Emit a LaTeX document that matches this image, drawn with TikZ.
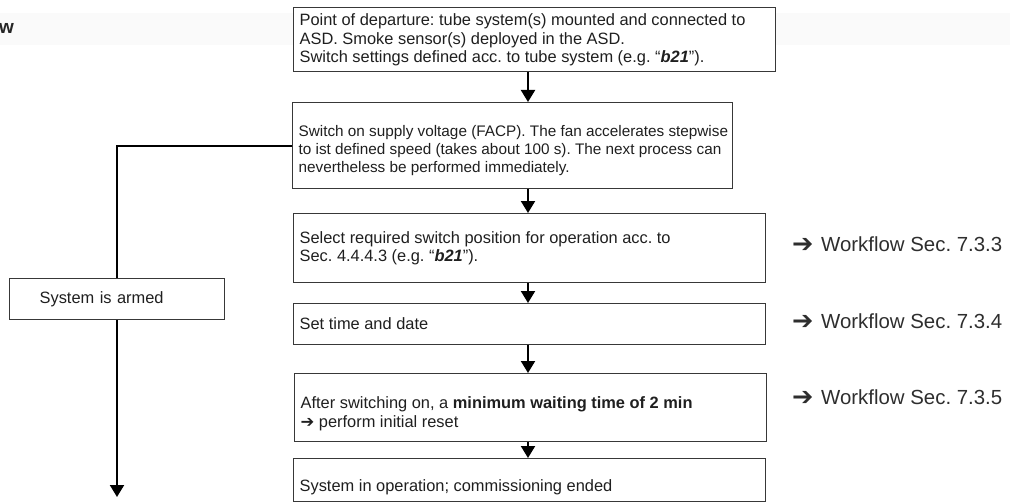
\documentclass[tikz,border=0pt]{standalone}
\usepackage{fontspec}
\setmainfont{Liberation Sans}
\newfontfamily\symfont{DejaVu Sans}
\usetikzlibrary{arrows.meta,calc}
\newcommand{\harr}{{\symfont\bfseries ➔}}
\newcommand{\bigarr}{\makebox[29pt][l]{\raisebox{-1pt}{\scalebox{1.25}{\symfont\bfseries ➔}}}}
% #1 box height, #2 text width, #3 first baseline below top, #4 lines
\newcommand{\boxtext}[4]{\parbox[c][#1][t]{#2}{\parindent=0pt\parskip=0pt\rule{0pt}{#3}#4}}
\frenchspacing
\begin{document}
\begin{tikzpicture}[x=1pt,y=-1pt,
  box/.style={draw=black!78, line width=1.3pt, fill=white, anchor=north west,
    inner xsep=6pt, inner ysep=0pt,
    font=\fontsize{16.4pt}{18.5pt}\selectfont, text=black!88},
  small/.style={font=\fontsize{15.3pt}{17.8pt}\selectfont},
  conn/.style={line width=2pt, draw=black, -{Triangle[width=14pt,length=12pt]}},
  lab/.style={anchor=west, inner sep=0pt, font=\fontsize{20.4pt}{24pt}\selectfont, text=black!82}]
\useasboundingbox (0,0) rectangle (1010,503);
\fill[black!2] (0,13) rectangle (1010,45);
\node[anchor=west, inner sep=0pt, font=\bfseries\fontsize{19pt}{22pt}\selectfont, text=black!85] (hd) at (-1,28) {w};

\node[box] (b1) at (293,7) {\boxtext{64pt}{470pt}{18pt}{%
  \mbox{Point of departure: tube system(s) mounted and connected to}\par
  \mbox{ASD. Smoke sensor(s) deployed in the ASD.}\par
  \mbox{Switch settings defined acc. to tube system (e.g. “\textbf{\textit{b21}}”).}}};
\node[box, small] (b2) at (292,102) {\boxtext{86pt}{428pt}{34.2pt}{%
  \mbox{Switch on supply voltage (FACP). The fan accelerates stepwise}\par
  \mbox{to ist defined speed (takes about 100 s). The next process can}\par
  \mbox{nevertheless be performed immediately.}}};
\node[box] (b3) at (293,213) {\boxtext{69pt}{460pt}{29.6pt}{%
  \mbox{Select required switch position for operation acc. to}\par
  \mbox{Sec. 4.4.4.3 (e.g. “\textbf{\textit{b21}}”).}}};
\node[box] (b4) at (293,303) {\boxtext{41pt}{460pt}{26pt}{%
  \mbox{Set time and date}}};
\node[box] (b5) at (294,373) {\boxtext{68pt}{460pt}{35pt}{%
  \mbox{After switching on, a \textbf{minimum waiting time of 2 min}}\par
  \mbox{\harr{} perform initial reset}}};
\node[box] (b6) at (293,458) {\boxtext{43pt}{460pt}{32.5pt}{%
  \mbox{System in operation; commissioning ended}}};

\coordinate (ax) at (528,0);
\draw[conn] (b1.south -| ax) -- (b2.north -| ax);
\draw[conn] (b2.south -| ax) -- (b3.north -| ax);
\draw[conn] (b3.south -| ax) -- (b4.north -| ax);
\draw[conn] (b4.south -| ax) -- (b5.north -| ax);
\draw[conn] (b5.south -| ax) -- (b6.north -| ax);

\coordinate (lend) at (117,497);
\draw[conn] (b2.west) -| (lend);
\node[box, inner xsep=0pt, minimum width=215pt, minimum height=41pt, text width=215pt] (armed) at (9,278)
  {\hspace*{30pt}System is armed};

\node[lab] (w1) at (792,245) {\bigarr Workflow Sec. 7.3.3};
\node[lab] (w2) at (792,322) {\bigarr Workflow Sec. 7.3.4};
\node[lab] (w3) at (792,398) {\bigarr Workflow Sec. 7.3.5};
\end{tikzpicture}
\end{document}
